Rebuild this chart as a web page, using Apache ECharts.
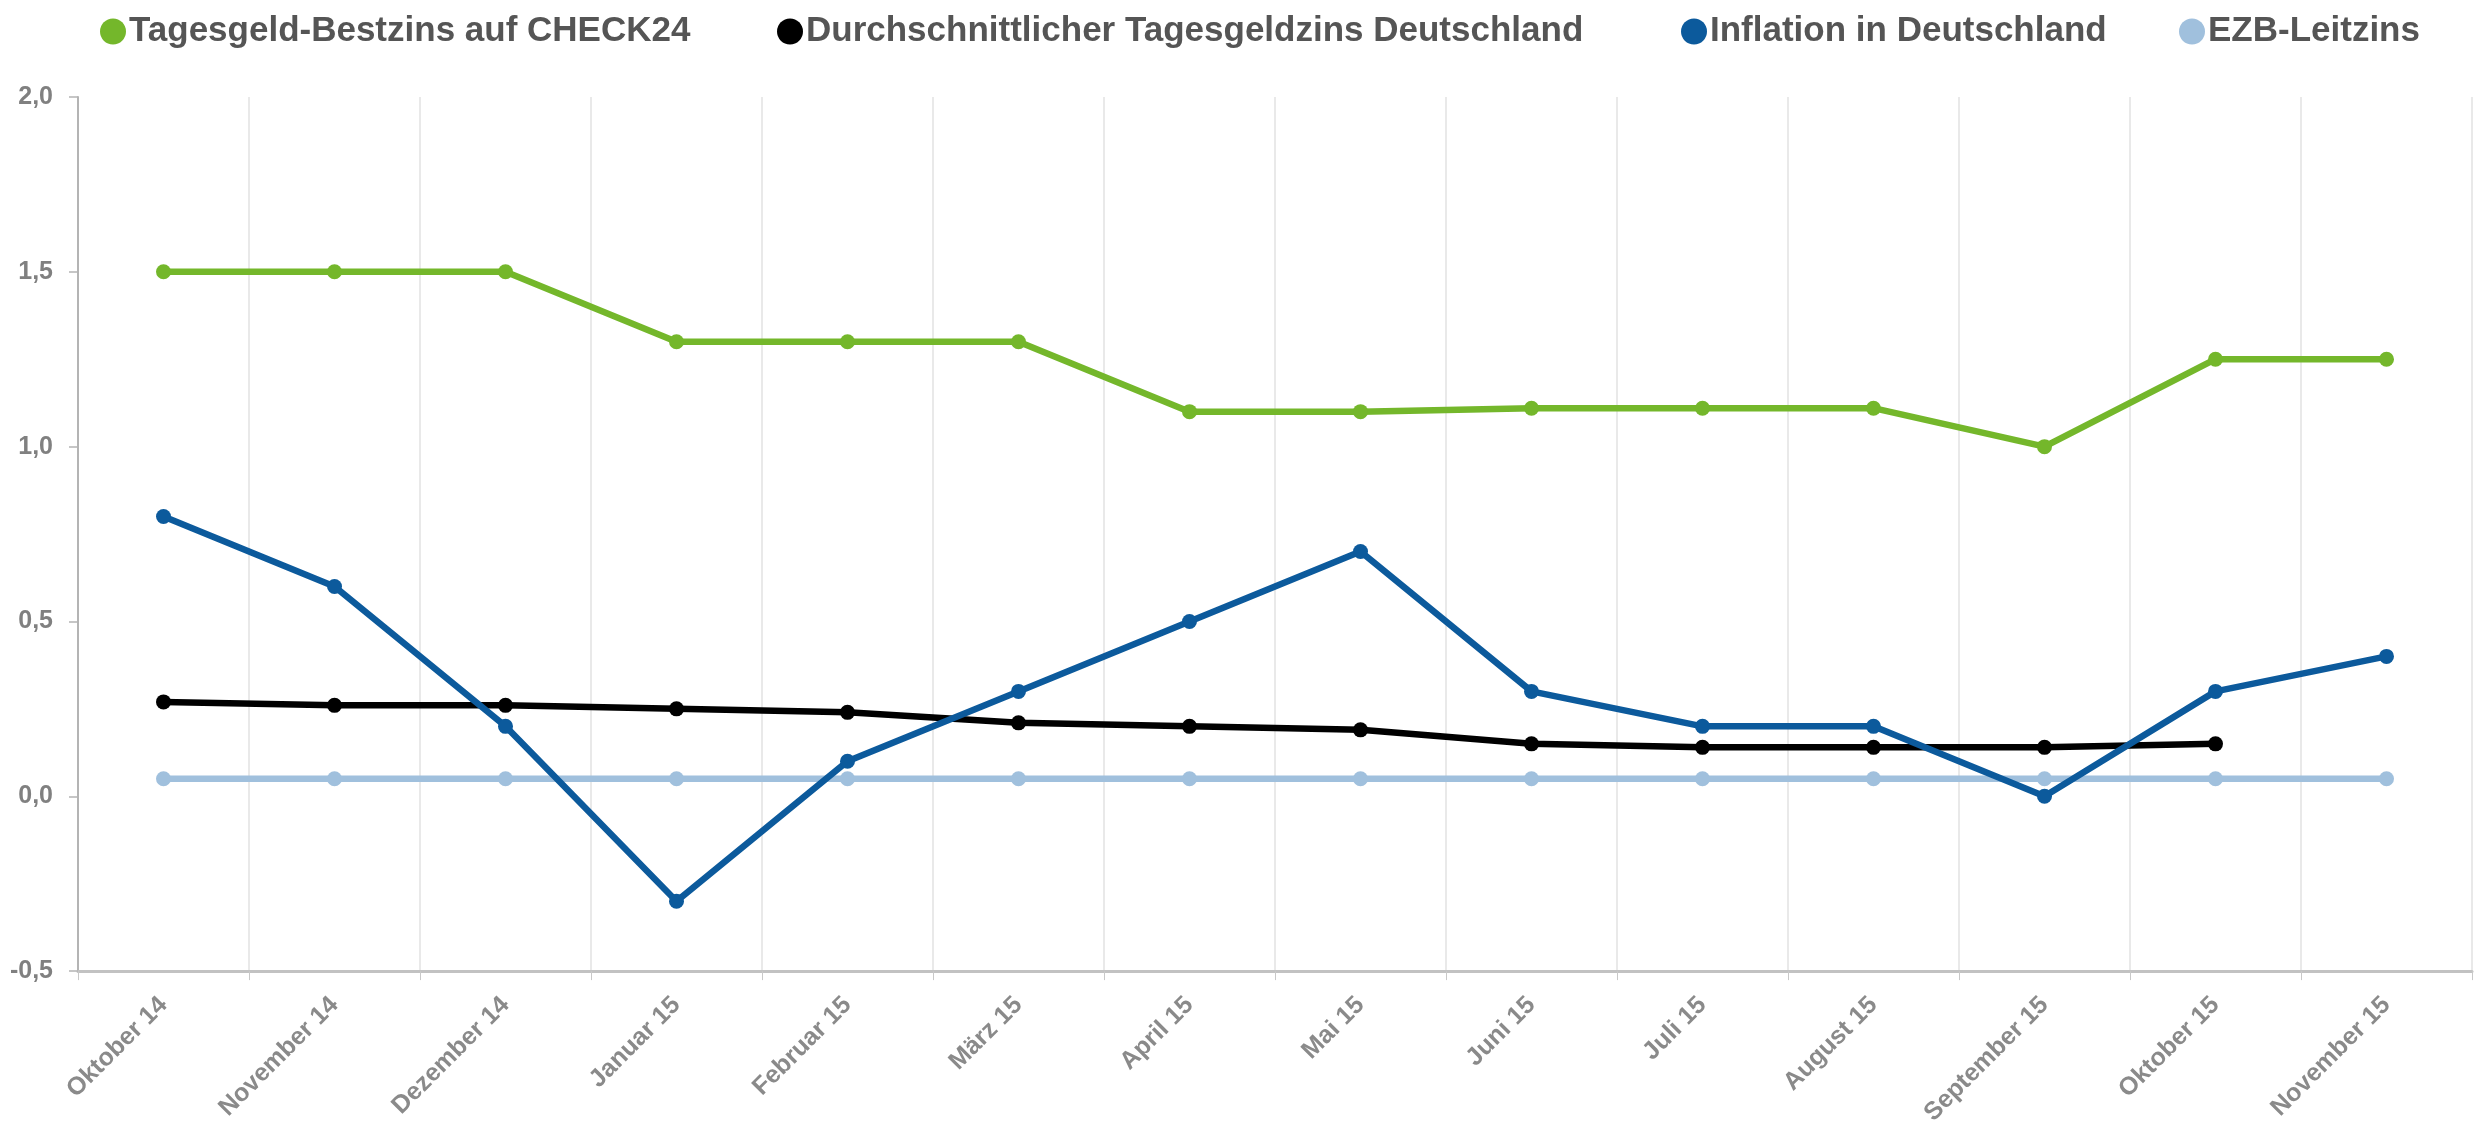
<!DOCTYPE html>
<html>
<head>
<meta charset="utf-8">
<script src="https://cdn.jsdelivr.net/npm/echarts@6/dist/echarts.min.js"></script>
<style>html,body{margin:0;padding:0;background:#fff}#c{width:2481px;height:1128px}</style>
</head>
<body>
<div id="c"></div>
<script>
var categories = ['Oktober 14','November 14','Dezember 14','Januar 15','Februar 15','März 15','April 15','Mai 15','Juni 15','Juli 15','August 15','September 15','Oktober 15','November 15'];
var check24 = [1.5, 1.5, 1.5, 1.3, 1.3, 1.3, 1.1, 1.1, 1.11, 1.11, 1.11, 1.0, 1.25, 1.25];
var avgZins = [0.27, 0.26, 0.26, 0.25, 0.24, 0.21, 0.20, 0.19, 0.15, 0.14, 0.14, 0.14, 0.15, null];
var inflation = [0.8, 0.6, 0.2, -0.3, 0.1, 0.3, 0.5, 0.7, 0.3, 0.2, 0.2, 0.0, 0.3, 0.4];
var ezb = [0.05, 0.05, 0.05, 0.05, 0.05, 0.05, 0.05, 0.05, 0.05, 0.05, 0.05, 0.05, 0.05, 0.05];
var yTicks = { min: -0.5, max: 2.0, interval: 0.5 };
var names = ['Tagesgeld-Bestzins auf CHECK24','Durchschnittlicher Tagesgeldzins Deutschland','Inflation in Deutschland','EZB-Leitzins'];
var colors = ['#74b72b','#000000','#0c5a9c','#a0c0dd'];
var legendLeft = [95, 772, 1676, 2174];

var chart = echarts.init(document.getElementById('c'), null, {renderer:'canvas'});
var legends = names.map(function(n, i){
  return {
    data: [n], left: legendLeft[i], top: 9, icon: 'circle',
    itemWidth: 26, itemHeight: 26, itemGap: 0,
    textStyle: {fontFamily:'Liberation Sans, Arial, sans-serif', fontWeight:'bold', fontSize:35, color:'#555', padding:[0,0,0,-2]},
    selectedMode: false
  };
});
var datas = [check24, avgZins, inflation, ezb];
var series = names.map(function(n, i){
  return {
    name: n, type: 'line', data: datas[i], color: colors[i],
    symbol: 'circle', symbolSize: 15, showSymbol: true,
    lineStyle: {width: 6.5, color: colors[i]},
    itemStyle: {color: colors[i]},
    z: i === 3 ? 1 : (i === 2 ? 4 : (i === 1 ? 3 : 2)),
    connectNulls: false, animation: false
  };
});
chart.setOption({
  animation: false,
  backgroundColor: '#fff',
  legend: legends,
  grid: {left: 78, right: 9, top: 97, bottom: 151, containLabel: false},
  xAxis: {
    type: 'category', data: categories, boundaryGap: true,
    axisLine: {show: true, onZero: false, lineStyle: {color: '#c2c2c2', width: 3}},
    axisTick: {show: true, alignWithLabel: false, length: 9, lineStyle: {color: '#c8c8c8', width: 1}},
    splitLine: {show: true, lineStyle: {color: '#e2e2e2', width: 1.5}},
    axisLabel: {rotate: 45, margin: 30, interval: 0, fontFamily: 'Liberation Sans, Arial, sans-serif', fontWeight: 'bold', fontSize: 25, color: '#8a8a8a'}
  },
  yAxis: {
    type: 'value', min: yTicks.min, max: yTicks.max, interval: yTicks.interval,
    axisLine: {show: true, lineStyle: {color: '#b4b4b4', width: 2}},
    axisTick: {show: true, length: 9, lineStyle: {color: '#b4b4b4', width: 1.5}},
    splitLine: {show: false},
    axisLabel: {margin: 25, fontFamily: 'Liberation Sans, Arial, sans-serif', fontWeight: 'bold', fontSize: 25, color: '#808080',
      formatter: function(v){ return v.toFixed(1).replace('.', ','); }}
  },
  series: series
});
</script>
</body>
</html>
